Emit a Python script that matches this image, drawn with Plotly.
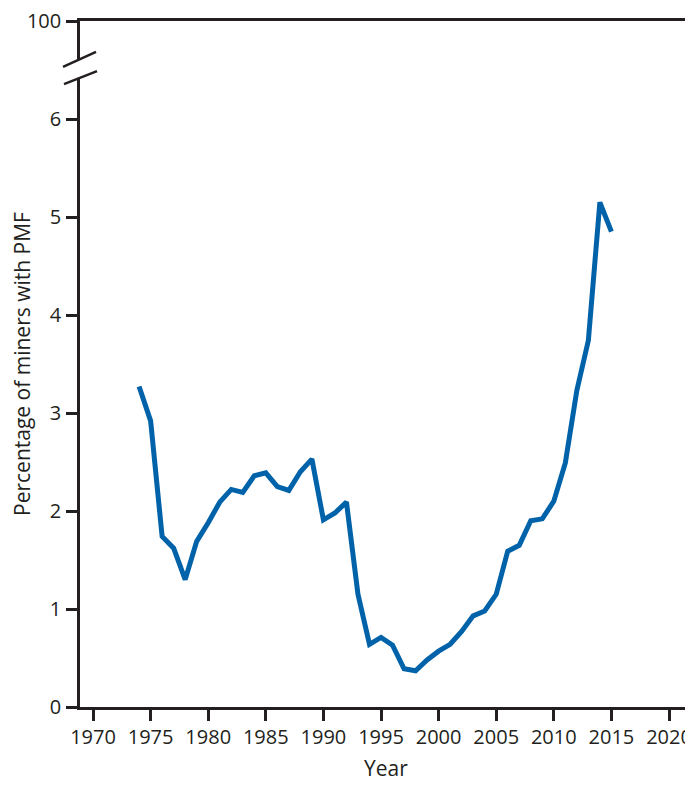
import plotly.graph_objects as go

years = list(range(1974, 2016))
pmf_pct = [3.27, 2.92, 1.74, 1.62, 1.30, 1.69, 1.88, 2.09, 2.22, 2.19, 2.36, 2.39,
           2.25, 2.21, 2.40, 2.53, 1.91, 1.98, 2.09, 1.15, 0.64, 0.71, 0.63, 0.39,
           0.37, 0.48, 0.57, 0.64, 0.77, 0.93, 0.98, 1.15, 1.59, 1.65, 1.90, 1.92,
           2.10, 2.49, 3.23, 3.74, 5.15, 4.85]

x_ticks = list(range(1970, 2021, 5))
y_tickvals = [0, 1, 2, 3, 4, 5, 6, 7]
y_ticktext = ["0", "1", "2", "3", "4", "5", "6", "100"]

INK = "#231f20"
FONT = "Open Sans"

fig = go.Figure()
fig.add_trace(go.Scatter(x=years, y=pmf_pct, mode="lines",
                         line=dict(color="#0062a9", width=5),
                         hoverinfo="skip", showlegend=False))

fig.update_layout(
    width=685, height=769,
    margin=dict(l=72, r=2, t=13, b=70, autoexpand=False),
    paper_bgcolor="white", plot_bgcolor="white",
    font=dict(family=FONT, size=20, color=INK),
    xaxis=dict(range=[1968.87, 2021.91], tickvals=x_ticks, ticks="outside",
               ticklen=11, tickwidth=2.5, tickcolor=INK, showgrid=False,
               zeroline=False, showline=True, linecolor=INK, linewidth=2.5,
               mirror=True, ticklabelstandoff=-1, ticklabeloverflow="allow",
               automargin=False),
    yaxis=dict(range=[0, 7], tickvals=y_tickvals, ticktext=y_ticktext,
               ticks="outside", ticklen=11, tickwidth=2.5, tickcolor=INK,
               showgrid=False, zeroline=False, showline=True, linecolor=INK,
               linewidth=2.5, mirror=True, ticklabelstandoff=1,
               ticklabeloverflow="allow", automargin=False,
               title=dict(text="Percentage of miners with PMF", standoff=0,
                          font=dict(size=21))),
    annotations=[dict(text="Year", xref="paper", yref="paper", x=0.5, y=-0.089,
                      xanchor="center", yanchor="middle", showarrow=False,
                      font=dict(size=21, color=INK, family=FONT))],
)

# axis break on the y axis
fig.add_shape(type="rect", xref="paper", yref="paper",
              x0=-0.006, x1=0.006, y0=0.917, y1=0.944,
              fillcolor="white", line=dict(width=0), layer="above")
fig.add_shape(type="line", xref="paper", yref="paper",
              x0=-0.0278, y0=0.933, x1=0.0262, y1=0.955,
              line=dict(color=INK, width=2.5), layer="above")
fig.add_shape(type="line", xref="paper", yref="paper",
              x0=-0.0262, y0=0.908, x1=0.0278, y1=0.927,
              line=dict(color=INK, width=2.5), layer="above")

fig.write_html("out.html")
